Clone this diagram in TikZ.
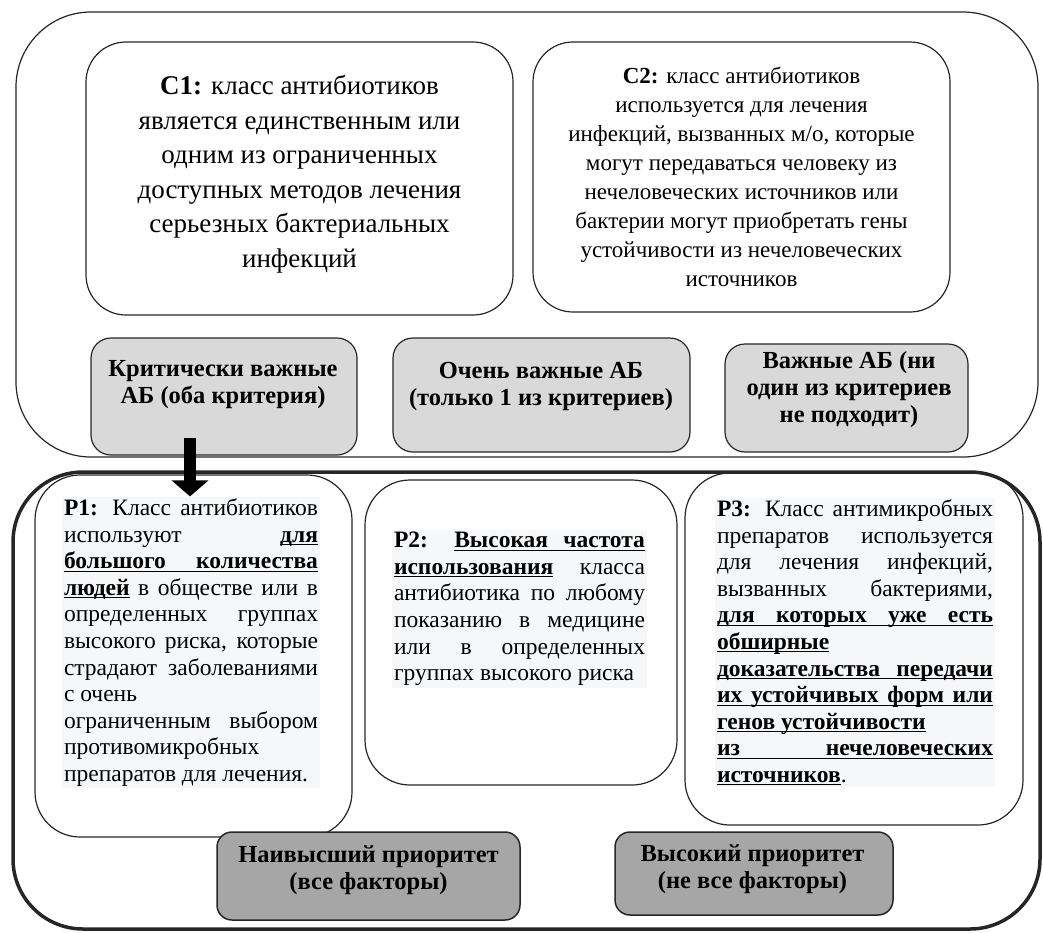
\documentclass[tikz,border=0pt]{standalone}
\usepackage{fontspec}
\setmainfont{Liberation Serif}
\usetikzlibrary{arrows.meta, positioning}
\definecolor{greylight}{HTML}{D9D9D9}
\definecolor{greydark}{HTML}{A6A6A6}
\definecolor{textback}{HTML}{F6F7F9}
\newcommand{\ulword}[1]{\setbox0\hbox{\bfseries #1}\rlap{\rule[-3pt]{\wd0}{1pt}}\box0\relax}
\newcommand{\ulsp}{\leaders\hrule height -2pt depth 3pt\hskip\fontdimen2\font plus\fontdimen3\font minus\fontdimen4\font\relax}

\begin{document}
\begin{tikzpicture}[
    x=1pt, y=-1pt,
    every node/.style={font=\fontsize{23.5}{26.6}\selectfont},
    panel/.style={
        rectangle,
        draw=black!85,
        line width=1.2pt,
        rounded corners=75pt
    },
    criterion/.style={
        rectangle,
        rounded corners=40pt,
        draw=black!85,
        line width=1.2pt,
        align=center
    },
    group/.style={
        rectangle,
        rounded corners=20pt,
        draw=black!85,
        line width=1.2pt,
        fill=greylight
    },
    grouptext/.style={
        align=center,
        font=\fontsize{24.5}{27}\selectfont\bfseries
    },
    factor/.style={
        rectangle,
        rounded corners=45pt,
        draw=black!85,
        line width=1.2pt
    },
    factortext/.style={
        fill=textback,
        align=justify,
        inner sep=2pt
    },
    priority/.style={
        rectangle,
        rounded corners=15pt,
        draw=black!85,
        line width=1.5pt,
        fill=greydark
    },
    arrow/.style={
        -{Triangle[width=36pt, length=16pt]},
        line width=12pt
    }
]
\useasboundingbox (0,0) rectangle (1043,932);

% panels
\node[panel, minimum width=1022pt, minimum height=445pt] (criteria) at (527,234.5) {};
\node[panel, line width=3.5pt, rounded corners=70pt, minimum width=1027pt, minimum height=457pt] (factors) at (526.5,700.5) {};

% criteria C1, C2
\node[criterion, minimum width=427pt, minimum height=273pt, text depth=14pt, font=\fontsize{27}{34.5}\selectfont] (c1) at (299.5,178.5) {\textbf{C1:} класс антибиотиков\\
является единственным или\\
одним из ограниченных\\
доступных методов лечения\\
серьезных бактериальных\\
инфекций};
\node[criterion, minimum width=417pt, minimum height=270pt, font=\fontsize{23}{29}\selectfont] (c2) at (741.5,177) {\textbf{C2:} класс антибиотиков\\
используется для лечения\\
инфекций, вызванных м/о, которые\\
могут передаваться человеку из\\
нечеловеческих источников или\\
бактерии могут приобретать гены\\
устойчивости из нечеловеческих\\
источников};

% groups of antibiotics
\node[group, minimum width=266pt, minimum height=117pt] (critical) at (224,396.5) {};
\node[group, minimum width=297pt, minimum height=114pt] (veryimp) at (541.5,395) {};
\node[group, minimum width=243pt, minimum height=108pt] (important) at (846.5,398) {};
\node[grouptext] (critical-t) at (223,385) {Критически важные\\АБ (оба критерия)};
\node[grouptext] (veryimp-t) at (541,386.5) {Очень важные АБ\\(только 1 из критериев)};
\node[grouptext] (important-t) at (849,390) {Важные АБ (ни\\один из критериев\\не подходит)};

% factors P1--P3
\node[factor, minimum width=317pt, minimum height=362pt] (p1) at (193.5,656) {};
\node[factor, minimum width=312pt, minimum height=305pt] (p2) at (521,632.5) {};
\node[factor, minimum width=338pt, minimum height=352pt] (p3) at (854,649) {};

\node[factortext, text width=254pt] (p1-t) at (191,642.5) {\textbf{P1:} Класс антибиотиков\break
используют \ulword{для}\break
\ulword{большого}\ulsp\ulword{количества}\break
\ulword{людей} в обществе или в\break
определенных группах\break
высокого риска, которые\break
страдают заболеваниями\break
с очень\hfill\break
ограниченным выбором\break
противомикробных\hfill\break
препаратов для лечения.};
\node[factortext, text width=251pt] (p2-t) at (519.5,609) {\textbf{P2:} \ulword{Высокая}\ulsp\ulword{частота}\break
\ulword{использования} класса\break
антибиотика по любому\break
показанию в медицине\break
или в определенных\break
группах высокого риска};
\node[factortext, text width=276pt] (p3-t) at (855,642.5) {\textbf{P3:} Класс антимикробных\break
препаратов используется\break
для лечения инфекций,\break
вызванных бактериями,\break
\ulword{для}\ulsp\ulword{которых}\ulsp\ulword{уже}\ulsp\ulword{есть}\break
\ulword{обширные}\hfill\break
\ulword{доказательства}\ulsp\ulword{передачи}\break
\ulword{их}\ulsp\ulword{устойчивых}\ulsp\ulword{форм}\ulsp\ulword{или}\break
\ulword{генов}\ulsp\ulword{устойчивости}\hfill\break
\ulword{из}\ulsp\ulword{нечеловеческих}\break
\ulword{источников}.};

% priorities
\node[priority, minimum width=303pt, minimum height=88pt] (highest) at (368.5,876) {};
\node[priority, minimum width=278pt, minimum height=83pt] (high) at (754,873.5) {};
\node[grouptext] (highest-t) at (368.5,870.5) {Наивысший приоритет\\(все факторы)};
\node[grouptext] (high-t) at (752.5,869.5) {Высокий приоритет\\(не все факторы)};

\draw[arrow] ([xshift=-34pt, yshift=18pt]critical.south) -- ([xshift=-3.5pt, yshift=-22pt]p1.north);

\end{tikzpicture}
\end{document}
